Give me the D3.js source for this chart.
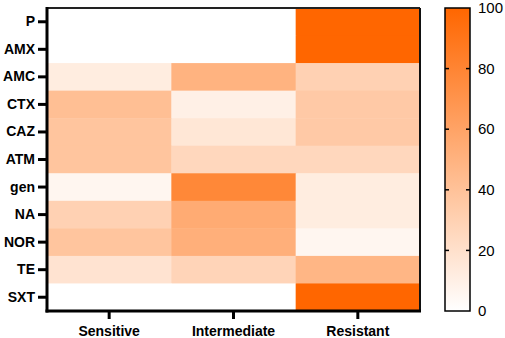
<!DOCTYPE html>
<html><head><meta charset="utf-8">
<script src="https://cdn.jsdelivr.net/npm/d3@7"></script>
<style>body{margin:0;background:#fff}svg{display:block}</style>
</head><body><svg id="c" width="505" height="338"></svg>
<script>
const rows = ["P","AMX","AMC","CTX","CAZ","ATM","gen","NA","NOR","TE","SXT"];
const cols = ["Sensitive","Intermediate","Resistant"];
const sensitive    = [0, 0, 12, 42, 38, 38, 6, 30, 38, 18, 0];
const intermediate = [0, 0, 50, 10, 16, 26, 78, 55, 52, 28, 0];
const resistant    = [100, 100, 30, 35, 35, 26, 12, 12, 6, 48, 100];
const legendTicks = [0, 20, 40, 60, 80, 100];

const svg = d3.select("#c");
const L = 47, R = 420, T = 8, B = 311;
const x = d3.scaleBand().domain(cols).range([L, R]);
const y = d3.scaleBand().domain(rows).range([T, B]);
const color = d3.scaleLinear().domain([0, 100]).range(["#ffffff", "#ff6600"]);

const data = [];
rows.forEach((r, i) => {
  data.push({r, c: cols[0], v: sensitive[i]});
  data.push({r, c: cols[1], v: intermediate[i]});
  data.push({r, c: cols[2], v: resistant[i]});
});
svg.append("g").selectAll("rect").data(data).join("rect")
  .attr("x", d => x(d.c)).attr("y", d => y(d.r))
  .attr("width", x.bandwidth() + 0.5).attr("height", y.bandwidth() + 0.5)
  .attr("fill", d => color(d.v));

// frame
svg.append("line").attr("x1", L).attr("x2", R).attr("y1", T).attr("y2", T).attr("stroke", "#222").attr("stroke-width", 2);
svg.append("line").attr("x1", R).attr("x2", R).attr("y1", T).attr("y2", B).attr("stroke", "#111").attr("stroke-width", 2);

const font = "'Liberation Sans', Arial, sans-serif";
const yAxis = svg.append("g").attr("transform", `translate(${L},0)`)
  .call(d3.axisLeft(y).tickSize(9).tickPadding(3));
const xAxis = svg.append("g").attr("transform", `translate(0,${B})`)
  .call(d3.axisBottom(x).tickSize(8).tickPadding(7));
[yAxis, xAxis].forEach(g => {
  g.select(".domain").attr("stroke", "#000").attr("stroke-width", 3);
  g.selectAll(".tick line").attr("stroke", "#000").attr("stroke-width", 3);
  g.selectAll("text").attr("font-family", font).attr("font-weight", "bold")
    .attr("font-size", 14).attr("fill", "#000");
});
yAxis.select(".domain").attr("d", `M0,${T-1}V${B+1.5}`);
xAxis.select(".domain").attr("d", `M${L-1.5},0H${R+1}`);

// legend
const lx = 445, lw = 25, lt = 8, lb = 311;
const ly = d3.scaleLinear().domain([0, 100]).range([lb, lt]);
const defs = svg.append("defs");
const grad = defs.append("linearGradient").attr("id", "g").attr("x1", 0).attr("x2", 0).attr("y1", 1).attr("y2", 0);
grad.append("stop").attr("offset", "0%").attr("stop-color", color(0));
grad.append("stop").attr("offset", "100%").attr("stop-color", color(100));
svg.append("rect").attr("x", lx).attr("y", lt).attr("width", lw).attr("height", lb - lt)
  .attr("fill", "url(#g)").attr("stroke", "#000").attr("stroke-width", 1.5);
const lg = svg.append("g");
lg.selectAll("line.l").data(legendTicks.slice(1, -1)).join("line")
  .attr("x1", lx).attr("x2", lx + 4).attr("y1", d => ly(d)).attr("y2", d => ly(d))
  .attr("stroke", "#000").attr("stroke-width", 1.5);
lg.selectAll("line.r").data(legendTicks.slice(1, -1)).join("line")
  .attr("x1", lx + lw - 4).attr("x2", lx + lw).attr("y1", d => ly(d)).attr("y2", d => ly(d))
  .attr("stroke", "#000").attr("stroke-width", 1.5);
lg.selectAll("text").data(legendTicks).join("text")
  .attr("x", 478).attr("y", d => ly(d)).attr("dy", "0.35em")
  .attr("font-family", font).attr("font-size", 15).attr("fill", "#000")
  .text(d => d);
</script></body></html>
